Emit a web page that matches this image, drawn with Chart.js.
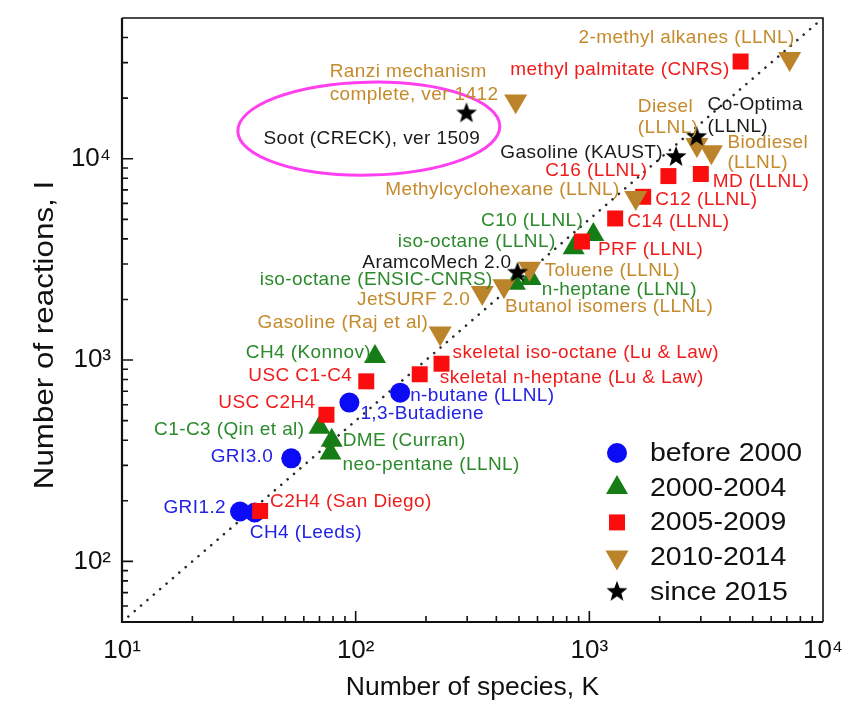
<!DOCTYPE html>
<html>
<head>
<meta charset="utf-8">
<script src="https://cdn.jsdelivr.net/npm/chart.js@4/dist/chart.umd.min.js"></script>
<style>
html,body{margin:0;padding:0;background:#ffffff;}
#wrap{width:842px;height:722px;}
</style>
</head>
<body>
<div id="wrap"><canvas id="c" width="842" height="722"></canvas></div>
<script>
// ---------------- data ----------------
const seriesNames = ['before 2000', '2000-2004', '2005-2009', '2010-2014', 'since 2015'];

const before2000Names     = ['GRI1.2', 'CH4 (Leeds)', 'GRI3.0', '1,3-Butadiene', 'n-butane (LLNL)'];
const before2000Species   = [32, 37, 53, 94, 155];
const before2000Reactions = [177, 175, 325, 615, 689];

const y2000Names     = ['C1-C3 (Qin et al)', 'DME (Curran)', 'neo-pentane (LLNL)', 'CH4 (Konnov)', 'iso-octane (ENSIC-CNRS)', 'n-heptane (LLNL)', 'iso-octane (LLNL)', 'C10 (LLNL)'];
const y2000Species   = [70, 79, 78, 121, 480, 561, 857, 1040];
const y2000Reactions = [463, 399, 345, 1040, 2400, 2539, 3606, 4200];

const y2005Names     = ['C2H4 (San Diego)', 'USC C2H4', 'USC C1-C4', 'skeletal n-heptane (Lu & Law)', 'skeletal iso-octane (Lu & Law)', 'PRF (LLNL)', 'C14 (LLNL)', 'C12 (LLNL)', 'C16 (LLNL)', 'MD (LLNL)', 'methyl palmitate (CNRS)'];
const y2005Species   = [39, 75, 111, 188, 233, 930, 1290, 1700, 2180, 3000, 4440];
const y2005Reactions = [178, 535, 784, 850, 959, 3880, 5050, 6470, 8200, 8400, 30400];

const y2010Names     = ['Gasoline (Raj et al)', 'JetSURF 2.0', 'Butanol isomers (LLNL)', 'Toluene (LLNL)', 'Ranzi mechanism\ncomplete, ver 1412', 'Methylcyclohexane (LLNL)', 'Diesel\n(LLNL)', 'Biodiesel\n(LLNL)', '2-methyl alkanes (LLNL)'];
const y2010Species   = [230, 348, 431, 555, 484, 1580, 2885, 3329, 7200];
const y2010Reactions = [1360, 2163, 2335, 2850, 19341, 6400, 11754, 10806, 31400];

const y2015Names     = ['Soot (CRECK), ver 1509', 'Gasoline (KAUST)', 'Co-Optima\n(LLNL)', 'AramcoMech 2.0'];
const y2015Species   = [298, 2350, 2878, 493];
const y2015Reactions = [16800, 10200, 12839, 2716];

// reference line I = 5 K
const refLineSpecies   = [10, 10000];
const refLineReactions = [50, 50000];

// axes
const xTickValues = [10, 100, 1000, 10000];
const yTickValues = [100, 1000, 10000];
const decades = [1, 10, 100, 1000, 10000];
const minorMultipliers = [2, 3, 4, 5, 6, 7, 8, 9];
const xTitle = 'Number of species, K';
const yTitle = 'Number of reactions, I';

// highlighted region (ellipse around the soot mechanism), in data units
const highlightSpecies   = [31.3, 414];
const highlightReactions = [8290, 24000];

// ---------------- styles / placement (not data) ----------------
const FONT = "'Liberation Sans', Arial, Helvetica, sans-serif";
const markerColors = ['#0b0bf5', '#167d16', '#fa0d0d', '#bb832a', '#000000'];
const labelColors  = ['#2222e6', '#2b8a2b', '#f01c1c', '#c48a2c', '#1a1a1a'];

// label offsets in px relative to the marker: [dx, dy, align, lineGap]
const labelPlacement = {
  'GRI1.2': [-14, -4, 'right'],
  'CH4 (Leeds)': [-5, 20, 'left'],
  'GRI3.0': [-18, -2, 'right'],
  '1,3-Butadiene': [11, 11, 'left'],
  'n-butane (LLNL)': [10, 3, 'left'],
  'C1-C3 (Qin et al)': [-15, 2, 'right'],
  'DME (Curran)': [11, 0, 'left'],
  'neo-pentane (LLNL)': [12, 12, 'left'],
  'CH4 (Konnov)': [-4, -4, 'right'],
  'iso-octane (ENSIC-CNRS)': [-22, -4, 'right'],
  'n-heptane (LLNL)': [11, 11, 'left'],
  'iso-octane (LLNL)': [-18, -6, 'right'],
  'C10 (LLNL)': [-10, -14, 'right'],
  'C2H4 (San Diego)': [10, -9, 'left'],
  'USC C2H4': [-11, -12, 'right'],
  'USC C1-C4': [-14, -6, 'right'],
  'skeletal n-heptane (Lu & Law)': [20, 3, 'left'],
  'skeletal iso-octane (Lu & Law)': [11, -11, 'left'],
  'PRF (LLNL)': [16, 8, 'left'],
  'C14 (LLNL)': [12, 3, 'left'],
  'C12 (LLNL)': [12, 3, 'left'],
  'C16 (LLNL)': [-21, -5, 'right'],
  'MD (LLNL)': [12, 8, 'left'],
  'methyl palmitate (CNRS)': [-11, 8, 'right'],
  'Gasoline (Raj et al)': [-12, -10, 'right'],
  'JetSURF 2.0': [-12, 7, 'right'],
  'Butanol isomers (LLNL)': [1, 21, 'left'],
  'Toluene (LLNL)': [15, 2, 'left'],
  'Ranzi mechanism\ncomplete, ver 1412': [-186, -29, 'left', 23],
  'Methylcyclohexane (LLNL)': [-16, -8, 'right'],
  'Diesel\n(LLNL)': [-59, -38, 'left', 21],
  'Biodiesel\n(LLNL)': [16, -9, 'left', 20],
  '2-methyl alkanes (LLNL)': [5, -21, 'right'],
  'Soot (CRECK), ver 1509': [-203, 25, 'left'],
  'Gasoline (KAUST)': [-13, -4, 'right'],
  'Co-Optima\n(LLNL)': [11, -32, 'left', 22],
  'AramcoMech 2.0': [-6, -10, 'right']
};

function makeStar(r, color) {
  const s = Math.ceil(r * 2) + 2;
  const c = document.createElement('canvas');
  c.width = s; c.height = s;
  const g = c.getContext('2d');
  g.fillStyle = color;
  g.beginPath();
  for (let i = 0; i < 10; i++) {
    const a = -Math.PI / 2 + i * Math.PI / 5;
    const rr = (i % 2) ? r * 0.42 : r;
    g.lineTo(s / 2 + rr * Math.cos(a), s / 2 + rr * Math.sin(a));
  }
  g.closePath();
  g.fill();
  return c;
}
const starImg = makeStar(11, '#000000');
const starImgLegend = makeStar(11, '#000000');

const pointStyles = ['circle', 'triangle', 'rect', 'triangle', starImg];
const pointRotations = [0, 0, 0, 180, 0];
const pointRadii = [10, 12.7, 11.3, 13.3, 11];

function zip(xs, ys) { return xs.map((x, i) => ({ x: x, y: ys[i] })); }

const groups = [
  [before2000Names, before2000Species, before2000Reactions],
  [y2000Names, y2000Species, y2000Reactions],
  [y2005Names, y2005Species, y2005Reactions],
  [y2010Names, y2010Species, y2010Reactions],
  [y2015Names, y2015Species, y2015Reactions]
];

const datasets = groups.map((g, i) => ({
  label: seriesNames[i],
  data: zip(g[1], g[2]),
  names: g[0],
  groupIndex: i,
  showLine: false,
  pointStyle: pointStyles[i],
  pointRotation: pointRotations[i],
  pointRadius: pointRadii[i],
  pointHoverRadius: pointRadii[i],
  pointBackgroundColor: markerColors[i],
  pointBorderColor: markerColors[i],
  pointBorderWidth: 0,
  order: 6 - i
}));

datasets.push({
  label: 'I = 5K',
  data: zip(refLineSpecies, refLineReactions),
  showLine: true,
  isRef: true,
  borderColor: '#2a2a2a',
  borderWidth: 2.6,
  borderDash: [0.01, 8.4],
  borderCapStyle: 'round',
  pointRadius: 0,
  fill: false,
  order: 20
});

const sup = { 1: '\u00B9', 2: '\u00B2', 3: '\u00B3', 4: '\u2074' };
function decadeLabel(v) { return '10' + sup[Math.round(Math.log10(v))]; }

// frame + inward ticks + y title
const framePlugin = {
  id: 'frame',
  beforeDatasetsDraw(chart) {
    const { ctx, chartArea: a, scales: { x, y } } = chart;
    ctx.save();
    ctx.strokeStyle = '#111';
    ctx.lineWidth = 1.6;
    ctx.beginPath();
    ctx.moveTo(a.left, a.top); ctx.lineTo(a.right, a.top); ctx.lineTo(a.right, a.bottom);
    ctx.stroke();
    ctx.lineWidth = 2.2;
    ctx.beginPath();
    ctx.moveTo(a.left, a.top); ctx.lineTo(a.left, a.bottom); ctx.lineTo(a.right, a.bottom);
    ctx.stroke();
    ctx.lineWidth = 1.6;
    const xmin = x.min, xmax = x.max, ymin = y.min, ymax = y.max;
    ctx.beginPath();
    decades.forEach(d => {
      minorMultipliers.forEach(m => {
        const v = d * m;
        if (v > xmin && v < xmax) { const px = x.getPixelForValue(v); ctx.moveTo(px, a.bottom); ctx.lineTo(px, a.bottom - 6); }
        if (v > ymin && v < ymax) { const py = y.getPixelForValue(v); ctx.moveTo(a.left, py); ctx.lineTo(a.left + 6, py); }
      });
    });
    xTickValues.forEach(v => { if (v > xmin && v < xmax) { const px = x.getPixelForValue(v); ctx.moveTo(px, a.bottom); ctx.lineTo(px, a.bottom - 11); } });
    yTickValues.forEach(v => { if (v > ymin && v < ymax) { const py = y.getPixelForValue(v); ctx.moveTo(a.left, py); ctx.lineTo(a.left + 11, py); } });
    ctx.stroke();

    // y axis title (rotated)
    ctx.translate(45, (a.top + a.bottom) / 2 + 15);
    ctx.rotate(-Math.PI / 2);
    ctx.scale(1.12, 1);
    ctx.font = '28px ' + FONT;
    ctx.fillStyle = '#111';
    ctx.textAlign = 'center';
    ctx.textBaseline = 'middle';
    ctx.fillText(yTitle, 0, 0);
    ctx.restore();
  }
};

const labelPlugin = {
  id: 'pointLabels',
  afterDatasetsDraw(chart) {
    const { ctx, scales: { x, y } } = chart;
    ctx.save();
    const x0 = x.getPixelForValue(highlightSpecies[0]), x1 = x.getPixelForValue(highlightSpecies[1]);
    const y0 = y.getPixelForValue(highlightReactions[1]), y1 = y.getPixelForValue(highlightReactions[0]);
    ctx.strokeStyle = '#ff3ff0';
    ctx.lineWidth = 3;
    ctx.beginPath();
    ctx.ellipse((x0 + x1) / 2, (y0 + y1) / 2, (x1 - x0) / 2, (y1 - y0) / 2, -0.02, 0, Math.PI * 2);
    ctx.stroke();

    ctx.font = '19px ' + FONT;
    try { ctx.letterSpacing = '0.4px'; } catch (e) {}
    ctx.textBaseline = 'middle';
    chart.data.datasets.forEach((ds, di) => {
      if (ds.isRef) return;
      const meta = chart.getDatasetMeta(di);
      ctx.fillStyle = labelColors[ds.groupIndex];
      ds.names.forEach((name, j) => {
        const p = meta.data[j];
        const pl = labelPlacement[name] || [10, 0, 'left'];
        const lines = name.split('\n');
        ctx.textAlign = pl[2];
        lines.forEach((ln, k) => {
          ctx.fillText(ln, p.x + pl[0], p.y + pl[1] + k * (pl[3] || 21));
        });
      });
    });
    try { ctx.letterSpacing = '0px'; } catch (e) {}

    // legend
    const a = chart.chartArea;
    const lx = a.right - 206, ly = a.bottom - 169;
    chart.data.datasets.forEach((ds, di) => {
      if (ds.isRef) return;
      const gi = ds.groupIndex;
      const yy = ly + gi * 34.7;
      ctx.fillStyle = markerColors[gi];
      const opt = { pointStyle: gi === 4 ? starImgLegend : pointStyles[gi], rotation: pointRotations[gi], radius: pointRadii[gi], borderWidth: 0 };
      if (Chart.helpers && Chart.helpers.drawPoint) {
        Chart.helpers.drawPoint(ctx, opt, lx, yy);
      }
      ctx.save();
      ctx.translate(lx + 33, yy + 1);
      ctx.scale(1.14, 1);
      ctx.font = '25px ' + FONT;
      ctx.textAlign = 'left';
      ctx.textBaseline = 'middle';
      ctx.fillStyle = '#111';
      ctx.fillText(ds.label, 0, 0);
      ctx.restore();
    });
    ctx.restore();
  }
};

new Chart(document.getElementById('c'), {
  type: 'scatter',
  data: { datasets: datasets },
  options: {
    responsive: false,
    animation: false,
    events: [],
    layout: { padding: { top: 18, right: 19, left: 0, bottom: 0 } },
    plugins: { legend: { display: false }, tooltip: { enabled: false } },
    scales: {
      x: {
        type: 'logarithmic', position: 'bottom', min: 10, max: 10000,
        afterBuildTicks: s => { s.ticks = xTickValues.map(v => ({ value: v })); },
        afterFit: s => { s.height = 100; s.paddingLeft = 0; s.paddingRight = 0; },
        grid: { display: false }, border: { display: false },
        ticks: { callback: v => decadeLabel(v), autoSkip: false, maxRotation: 0, padding: 5, color: '#111', font: { family: FONT, size: 26 } },
        title: { display: true, text: xTitle, color: '#111', font: { family: FONT, size: 26.5 }, padding: { top: 0, bottom: 18 } }
      },
      y: {
        type: 'logarithmic', position: 'left', min: 50, max: 50000,
        afterBuildTicks: s => { s.ticks = yTickValues.map(v => ({ value: v })); },
        afterFit: s => { s.width = 122; s.paddingTop = 0; s.paddingBottom = 0; },
        grid: { display: false }, border: { display: false },
        ticks: { callback: v => decadeLabel(v), autoSkip: false, padding: 3, color: '#111', font: { family: FONT, size: 26 } },
        title: { display: false }
      }
    }
  },
  plugins: [framePlugin, labelPlugin]
});
</script>
</body>
</html>
